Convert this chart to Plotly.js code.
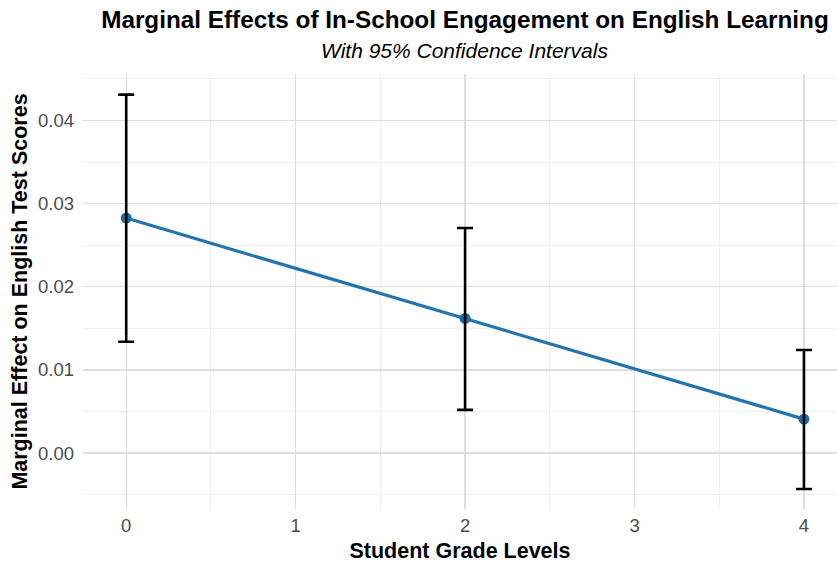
<!DOCTYPE html>
<html>
<head>
<meta charset="utf-8">
<script src="https://cdn.plot.ly/plotly-3.0.1.min.js"></script>
<style>html,body{margin:0;padding:0;background:#fff;overflow:hidden}</style>
</head>
<body>
<div id="chart" style="width:837px;height:564px"></div>
<script>
const gradeLevels = [0, 2, 4];
const marginalEffect = [0.02827, 0.01620, 0.00408];
const ciLower = [0.01339, 0.00520, -0.00432];
const ciUpper = [0.04312, 0.02708, 0.01240];
const xTickVals = [0, 1, 2, 3, 4];
const yTickVals = [0.00, 0.01, 0.02, 0.03, 0.04];
const yTickText = ["0.00", "0.01", "0.02", "0.03", "0.04"];

const errPlus = marginalEffect.map((v, i) => ciUpper[i] - v);
const errMinus = marginalEffect.map((v, i) => v - ciLower[i]);

const font = "Liberation Sans, Arial, Helvetica, sans-serif";

const traces = [
  {
    x: gradeLevels, y: marginalEffect, type: 'scatter', mode: 'lines+markers',
    line: {color: '#2274b0', width: 3.2},
    marker: {color: '#1f6aa5', size: 11},
    hoverinfo: 'skip', showlegend: false
  },
  {
    x: gradeLevels, y: marginalEffect, type: 'scatter', mode: 'markers',
    marker: {color: 'rgba(0,0,0,0)', size: 1},
    error_y: {type: 'data', symmetric: false, array: errPlus, arrayminus: errMinus,
              color: '#000000', thickness: 2.6, width: 8},
    hoverinfo: 'skip', showlegend: false
  }
];

const layout = {
  width: 837, height: 564,
  margin: {l: 83, r: 0, t: 74, b: 55},
  paper_bgcolor: '#ffffff', plot_bgcolor: '#ffffff',
  font: {family: font, color: '#000'},
  title: {
    text: '<b>Marginal Effects of In-School Engagement on English Learning</b>',
    font: {family: font, size: 24.3, color: '#000'},
    xref: 'paper', x: 0.5066, xanchor: 'center', yref: 'container', y: 0.965, yanchor: 'middle'
  },
  annotations: [{
    text: '<i>With 95% Confidence Intervals</i>',
    xref: 'paper', yref: 'paper', x: 0.5066, y: 1.0, yanchor: 'middle', yshift: 24,
    xanchor: 'center', showarrow: false,
    font: {family: font, size: 21, color: '#000'}
  }],
  xaxis: {
    range: [-0.255, 4.195],
    tickvals: xTickVals,
    ticks: '', showline: false, zeroline: false,
    showgrid: true, gridcolor: '#dedede', gridwidth: 1.4,
    minor: {dtick: 0.5, showgrid: true, gridcolor: '#efefef', gridwidth: 1},
    tickfont: {family: font, size: 18.5, color: '#4d4d4d'},
    ticklabelstandoff: 3,
    title: {text: '<b>Student Grade Levels</b>', font: {family: font, size: 21.5, color: '#000'}, standoff: 8}
  },
  yaxis: {
    range: [-0.00673, 0.0456],
    tickvals: yTickVals, ticktext: yTickText,
    ticks: '', showline: false, zeroline: false,
    showgrid: true, gridcolor: '#dedede', gridwidth: 1.4,
    minor: {dtick: 0.005, showgrid: true, gridcolor: '#efefef', gridwidth: 1},
    tickfont: {family: font, size: 18.5, color: '#4d4d4d'},
    ticklabelstandoff: 8,
    title: {text: '<b>Marginal Effect on English Test Scores</b>', font: {family: font, size: 21.5, color: '#000'}, standoff: 4}
  }
};

Plotly.newPlot('chart', traces, layout, {displayModeBar: false, staticPlot: true});
</script>
</body>
</html>
